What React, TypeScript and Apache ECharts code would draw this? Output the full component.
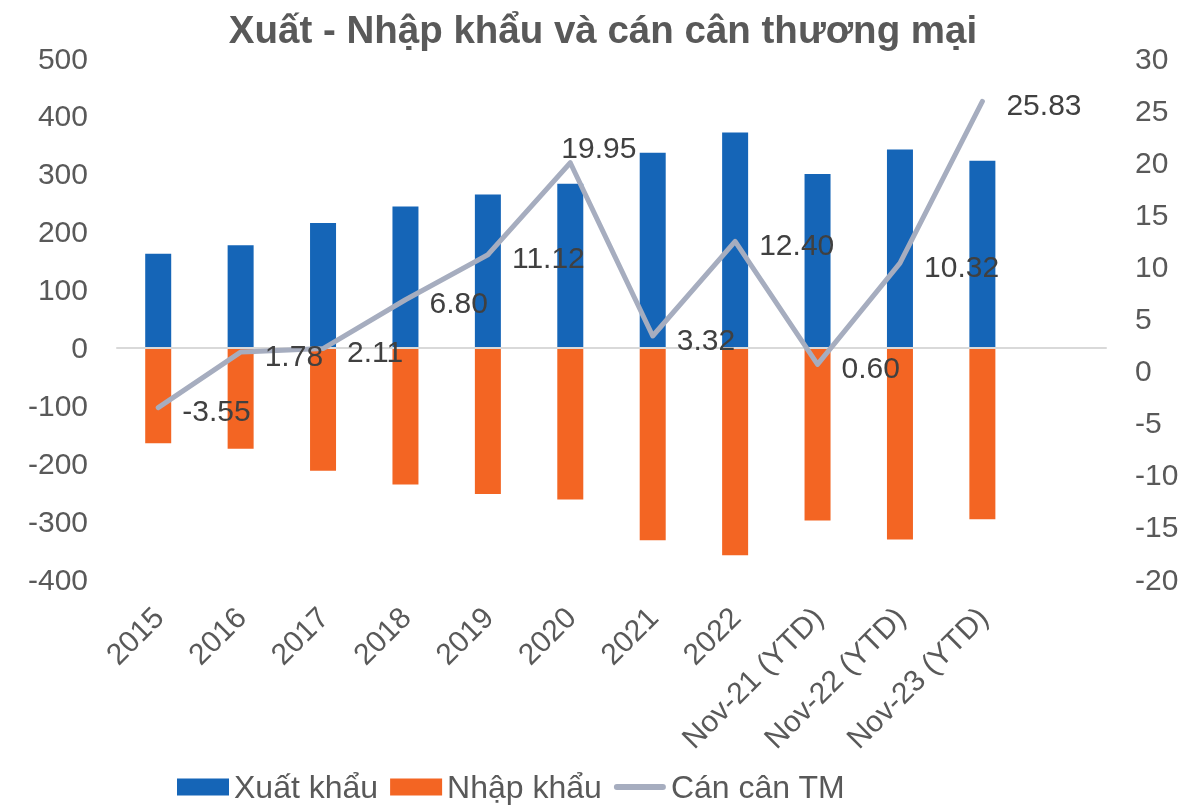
import React, { useEffect, useRef } from "react";
import * as echarts from "echarts";

const categories = ["2015", "2016", "2017", "2018", "2019", "2020", "2021", "2022", "Nov-21 (YTD)", "Nov-22 (YTD)", "Nov-23 (YTD)", ""];
const exportsData = [162.0, 176.6, 215.1, 243.5, 264.2, 282.6, 336.3, 371.3, 299.7, 342.1, 322.5];
const importsData = [-165.6, -174.8, -213.0, -236.7, -253.1, -262.7, -333.0, -358.9, -299.1, -331.8, -296.7];
const balanceData = [-3.55, 1.78, 2.11, 6.8, 11.12, 19.95, 3.32, 12.4, 0.6, 10.32, 25.83];

const FONT = "'Liberation Sans', Arial, sans-serif";

export default function App() {
  const ref = useRef<HTMLDivElement>(null);
  useEffect(() => {
    if (!ref.current) return;
    const chart = echarts.init(ref.current, undefined, { renderer: "svg" });
    const lineData = balanceData.map((v, i) =>
      i === 5
        ? { value: v, label: { offset: [-33, -15] } }
        : { value: v, label: { offset: [0, 3] } }
    );
    chart.setOption({
      animation: false,
      textStyle: { fontFamily: FONT },
      title: {
        text: "Xuất - Nhập khẩu và cán cân thương mại",
        left: 598,
        textAlign: "center",
        top: 5,
        textStyle: { fontFamily: FONT, fontSize: 38.5, fontWeight: "bold", color: "#595959" },
      },
      legend: {
        left: 177,
        top: 770,
        padding: 0,
        itemWidth: 52,
        itemHeight: 17,
        itemGap: 12,
        textStyle: { fontFamily: FONT, fontSize: 32, color: "#595959", lineHeight: 34 },
        data: [
          { name: "Xuất khẩu", icon: "rect" },
          { name: "Nhập khẩu", icon: "rect" },
          { name: "Cán cân TM", icon: "path://M3,0 L49,0 A3,3 0 0 1 49,6 L3,6 A3,3 0 0 1 3,0 Z" },
        ],
      },
      grid: { left: 117, right: 82, top: 58, height: 521 },
      xAxis: [
        {
          type: "category",
          data: categories,
          axisLine: { show: false, onZero: false },
          axisTick: { show: false },
          axisLabel: {
            rotate: 45,
            interval: 0,
            margin: 33,
            fontFamily: FONT,
            fontSize: 30,
            color: "#595959",
          },
        },
        {
          type: "category",
          data: categories,
          position: "bottom",
          z: 5,
          axisLine: { show: true, onZero: true, lineStyle: { color: "#D9D9D9", width: 2 } },
          axisTick: { show: false },
          axisLabel: { show: false },
        },
      ],
      yAxis: [
        {
          type: "value",
          min: -400,
          max: 500,
          interval: 100,
          axisLine: { show: false },
          axisTick: { show: false },
          splitLine: { show: false },
          axisLabel: { fontFamily: FONT, fontSize: 30, color: "#595959", margin: 29 },
        },
        {
          type: "value",
          min: -20,
          max: 30,
          interval: 5,
          axisLine: { show: false },
          axisTick: { show: false },
          splitLine: { show: false },
          axisLabel: { fontFamily: FONT, fontSize: 30, color: "#595959", margin: 29 },
        },
      ],
      series: [
        {
          name: "Xuất khẩu",
          type: "bar",
          stack: "trade",
          barWidth: 26,
          data: exportsData,
          itemStyle: { color: "#1565B7" },
        },
        {
          name: "Nhập khẩu",
          type: "bar",
          stack: "trade",
          barWidth: 26,
          data: importsData,
          itemStyle: { color: "#F36523" },
        },
        {
          name: "Cán cân TM",
          type: "line",
          yAxisIndex: 1,
          z: 10,
          symbol: "circle",
          symbolSize: 0.1,
          showSymbol: true,
          data: lineData,
          itemStyle: { color: "#A6ADBF" },
          lineStyle: { color: "#A6ADBF", width: 5, cap: "round", join: "round" },
          label: {
            show: true,
            position: "right",
            distance: 24,
            fontFamily: FONT,
            fontSize: 30,
            color: "#404040",
            formatter: (p: any) => Number(p.value).toFixed(2),
          },
        },
      ],
    });
    return () => chart.dispose();
  }, []);
  return <div ref={ref} style={{ position: "fixed", left: 0, top: 0, width: 1188, height: 806 }} />;
}
